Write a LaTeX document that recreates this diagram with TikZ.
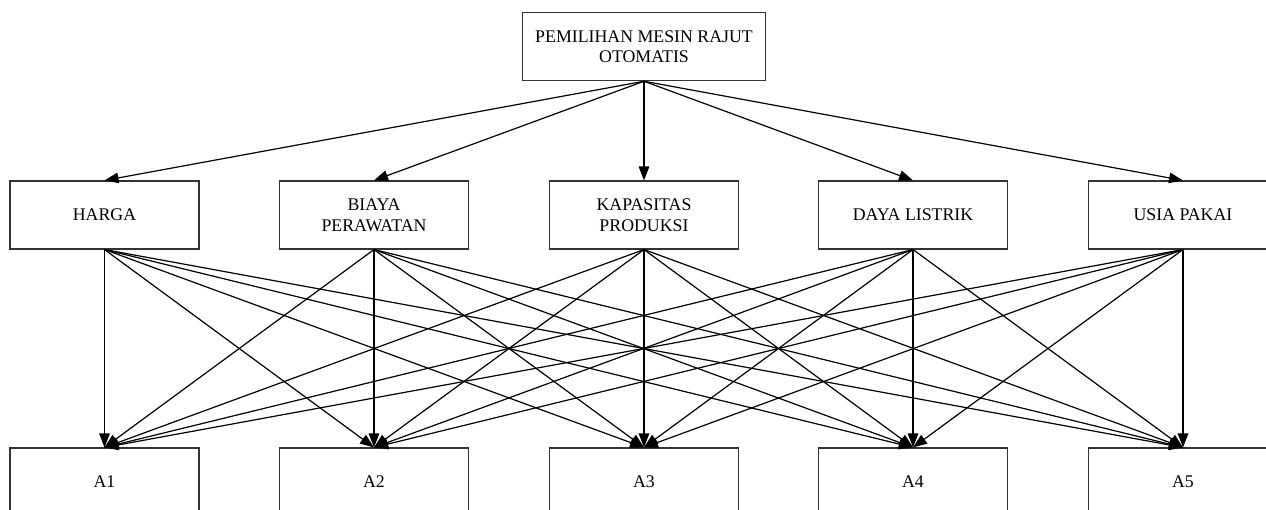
\documentclass[tikz,border=0pt]{standalone}
\usepackage{fontspec}
\setmainfont{Liberation Serif}
\usetikzlibrary{arrows.meta}
\begin{document}
\begin{tikzpicture}[x=1pt,y=-1pt,
  box/.style={draw=black!80,line width=1.1pt,rectangle,minimum width=189pt,minimum height=68pt,inner sep=0pt,align=center,font=\fontsize{17.8}{20.8}\selectfont},
  link/.style={line width=1.2pt,-{Triangle[length=14pt,width=10.5pt]}}]
\useasboundingbox (0,0) rectangle (1266,510);
\clip (0,0) rectangle (1266,510);
\node[box,minimum width=243pt] (top) at (644,46.7) {PEMILIHAN MESIN RAJUT\\OTOMATIS};
\node[box] (c1) at (104.5,215) {HARGA};
\node[box] (c2) at (374,215) {BIAYA\\PERAWATAN};
\node[box] (c3) at (644,215) {KAPASITAS\\PRODUKSI};
\node[box] (c4) at (913,215) {DAYA LISTRIK};
\node[box] (c5) at (1183,215) {USIA PAKAI};
\node[box] (a1) at (104.5,482) {A1};
\node[box] (a2) at (374,482) {A2};
\node[box] (a3) at (644,482) {A3};
\node[box] (a4) at (913,482) {A4};
\node[box] (a5) at (1183,482) {A5};
\foreach \c in {c1,c2,c3,c4,c5}{
  \draw[link] (top.south) -- (\c.north);
  \foreach \a in {a1,a2,a3,a4,a5}{
    \draw[link] (\c.south) -- (\a.north);
  }
}
\end{tikzpicture}
\end{document}
